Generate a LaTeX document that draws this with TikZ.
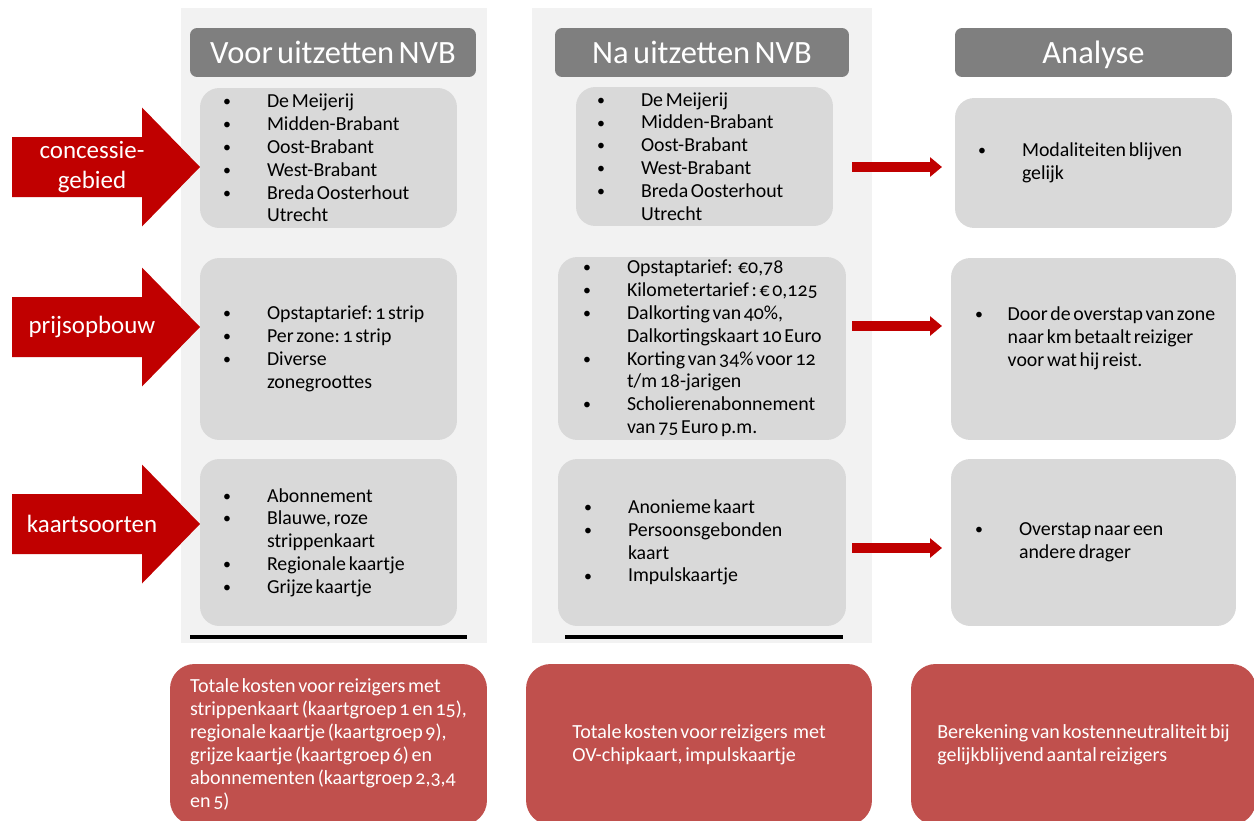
\documentclass[tikz,border=0pt]{standalone}
\usepackage{fontspec}
\setmainfont{Carlito}[Numbers=OldStyle, WordSpace=0.6]
\usetikzlibrary{arrows.meta,positioning}
\definecolor{colbg}{HTML}{F2F2F2}
\definecolor{headgray}{HTML}{7F7F7F}
\definecolor{boxgray}{HTML}{D9D9D9}
\definecolor{darkred}{HTML}{C00000}
\definecolor{sumred}{HTML}{C0504D}
\tikzstyle{column} = [fill=colbg, inner sep=0pt]
\tikzstyle{header} = [fill=headgray, rounded corners=4pt, text=white, inner sep=0pt, text height=13pt, text depth=1pt, font=\fontsize{18.5}{22}\selectfont]
\tikzstyle{item} = [fill=boxgray, rounded corners=11pt, inner sep=0pt]
\tikzstyle{itemtext} = [anchor=west, inner sep=0pt, align=left, font=\fontsize{11.3}{13}\selectfont]
\tikzstyle{total} = [fill=sumred, rounded corners=14pt, text=white, inner sep=0pt, align=left, font=\fontsize{11.4}{13}\selectfont]
\tikzstyle{bigarrow} = [fill=darkred]
\tikzstyle{arrowtext} = [text=white, align=center, font=\fontsize{14.2}{17}\selectfont]
\tikzstyle{link} = [draw=darkred, line width=0.2cm, -{Triangle[length=0.24cm,width=0.38cm]}]
\tikzstyle{rule} = [line width=2pt]
\newcommand{\bulitem}[1][0.88cm]{\makebox[#1][l]{\raisebox{0.1ex}{\scalebox{0.8}{\textbullet}}}}
\newcommand{\bulcont}[1][0.88cm]{\hspace*{#1}}
\frenchspacing

\begin{document}
\begin{tikzpicture}[x=0.02cm, y=-0.02cm, >=latex]
\useasboundingbox (0,0) rectangle (1254,821);

% columns
\node [column, minimum width=6.12cm, minimum height=12.7cm] (colA) at (334,325.5) {};
\node [column, minimum width=6.8cm, minimum height=12.7cm] (colB) at (702,325.5) {};
\draw [rule] (190,637) -- (467,637);
\draw [rule] (565,637) -- (843,637);

% headers
\node [header, minimum width=5.72cm, minimum height=0.98cm] (headA) at (333,52.5) {Voor uitzetten NVB};
\node [header, minimum width=5.88cm, minimum height=0.98cm] (headB) at (702,52.5) {Na uitzetten NVB};
\node [header, minimum width=5.54cm, minimum height=0.98cm] (headC) at (1093.5,52.5) {Analyse};

% left arrows
\foreach \y/\name/\txt in {167/arrA/{concessie-\\gebied}, 327/arrB/prijsopbouw, 524/arrC/kaartsoorten}{
  \fill [bigarrow] (12,{\y-30}) -- (142,{\y-30}) -- (142,{\y-59.5}) -- (200,\y)
    -- (142,{\y+59.5}) -- (142,{\y+30}) -- (12,{\y+30}) -- cycle;
  \node [arrowtext] (\name) at (92,\y) {\txt};
}

% before
\node [item, minimum width=5.14cm, minimum height=2.8cm] (beforeA) at (328.5,158) {};
\node [itemtext] (beforeAtext) at ([xshift=0.46cm]beforeA.west) {\bulitem De Meijerij\\
\bulitem Midden-Brabant\\
\bulitem Oost-Brabant\\
\bulitem West-Brabant\\
\bulitem Breda Oosterhout\\
\bulcont Utrecht};
\node [item, minimum width=5.14cm, minimum height=3.64cm] (beforeB) at (328.5,349) {};
\node [itemtext] (beforeBtext) at ([xshift=0.46cm]beforeB.west) {\bulitem Opstaptarief: 1 strip\\
\bulitem Per zone: 1 strip\\
\bulitem Diverse\\
\bulcont zonegroottes};
\node [item, minimum width=5.14cm, minimum height=3.34cm] (beforeC) at (328.5,542.5) {};
\node [itemtext] (beforeCtext) at ([xshift=0.46cm]beforeC.west) {\bulitem Abonnement\\
\bulitem Blauwe, roze\\
\bulcont strippenkaart\\
\bulitem Regionale kaartje\\
\bulitem Grijze kaartje};

% after
\node [item, minimum width=5.14cm, minimum height=2.78cm] (afterA) at (704.5,156.5) {};
\node [itemtext] (afterAtext) at ([xshift=0.42cm]afterA.west) {\bulitem De Meijerij\\
\bulitem Midden-Brabant\\
\bulitem Oost-Brabant\\
\bulitem West-Brabant\\
\bulitem Breda Oosterhout\\
\bulcont Utrecht};
\node [item, minimum width=5.76cm, minimum height=3.66cm] (afterB) at (702,348.5) {};
\node [itemtext] (afterBtext) at ([xshift=0.5cm]afterB.west) {\bulitem Opstaptarief:\ \ €0,78\\
\bulitem Kilometertarief : € 0,125\\
\bulitem Dalkorting van 40\%,\\
\bulcont Dalkortingskaart 10 Euro\\
\bulitem Korting van 34\% voor 12\\
\bulcont t/m 18-jarigen\\
\bulitem Scholierenabonnement\\
\bulcont van 75 Euro p.m.};
\node [item, minimum width=5.76cm, minimum height=3.34cm] (afterC) at (702,542.5) {};
\node [itemtext] (afterCtext) at ([xshift=0.52cm]afterC.west) {\bulitem Anonieme kaart\\
\bulitem Persoonsgebonden\\
\bulcont kaart\\
\bulitem Impulskaartje};

% analyse
\node [item, minimum width=5.54cm, minimum height=2.6cm] (anaA) at (1093.5,163) {};
\node [itemtext] (anaAtext) at ([xshift=0.46cm]anaA.west) {\bulitem Modaliteiten blijven\\
\bulcont gelijk};
\node [item, minimum width=5.7cm, minimum height=3.64cm] (anaB) at (1093.5,349) {};
\node [itemtext] (anaBtext) at ([xshift=0.48cm,yshift=0.22cm]anaB.west) {\bulitem[0.6cm] Door de overstap van zone\\
\bulcont[0.6cm] naar km betaalt reiziger\\
\bulcont[0.6cm] voor wat hij reist.};
\node [item, minimum width=5.7cm, minimum height=3.34cm] (anaC) at (1093.5,542.5) {};
\node [itemtext] (anaCtext) at ([xshift=0.48cm]anaC.west) {\bulitem Overstap naar een\\
\bulcont andere drager};

\foreach \y [count=\i] in {167,326,548}{
  \coordinate (from\i) at (852,\y);
  \coordinate (to\i) at (942,\y);
  \draw [link] (from\i) -- (to\i);
}

% totals
\node [total, minimum width=6.34cm, minimum height=3.22cm] (sumA) at (328.5,744.5) {Totale kosten voor reizigers met\\
strippenkaart (kaartgroep 1 en 15),\\
regionale kaartje (kaartgroep 9),\\
grijze kaartje (kaartgroep 6) en\\
abonnementen (kaartgroep 2,3,4\\
en 5)};
\node [total, minimum width=6.92cm, minimum height=3.22cm] (sumB) at (699,744.5) {Totale kosten voor reizigers\ \ met\\
OV-chipkaart, impulskaartje};
\node [total, minimum width=6.9cm, minimum height=3.22cm] (sumC) at (1083.5,744.5) {Berekening van kostenneutraliteit bij\\
gelijkblijvend aantal reizigers};

\end{tikzpicture}
\end{document}
